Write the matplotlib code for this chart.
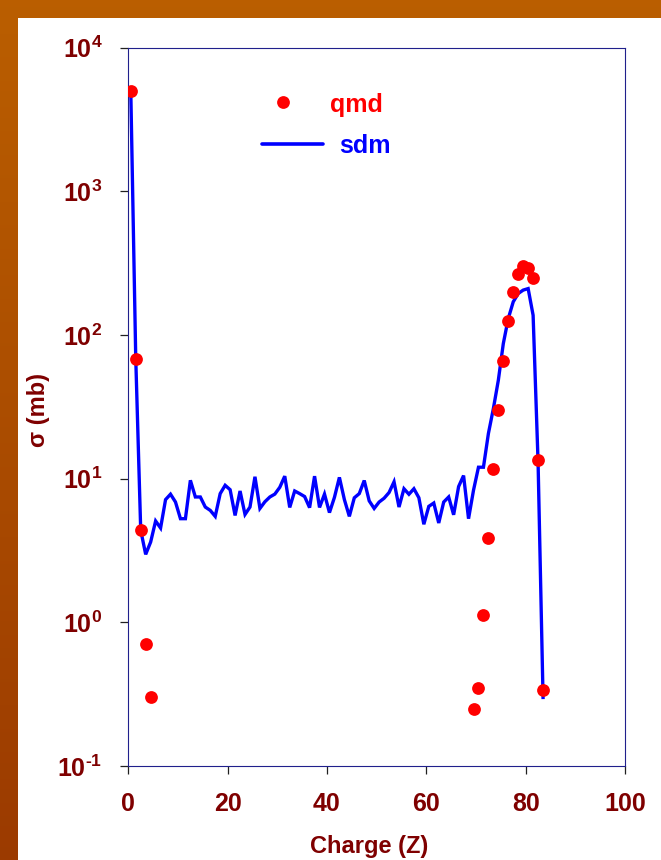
import numpy as np
import matplotlib.pyplot as plt
from matplotlib.patches import Rectangle

plt.rcParams['font.family'] = ['Liberation Sans', 'DejaVu Sans']
plt.rcParams['font.weight'] = 'bold'
plt.rcParams['mathtext.fontset'] = 'custom'
plt.rcParams['mathtext.rm'] = 'Liberation Sans:bold'
plt.rcParams['mathtext.it'] = 'Liberation Sans:bold'
plt.rcParams['mathtext.bf'] = 'Liberation Sans:bold'

# --- данные: сечения фрагментов по заряду ---
z_qmd = [0.5, 1.5, 2.5, 3.5, 4.5,
         69.5, 70.5, 71.5, 72.5, 73.5, 74.5, 75.5, 76.5, 77.5,
         78.5, 79.5, 80.5, 81.5, 82.5, 83.5]
sigma_qmd = [5000, 68.5, 4.4, 0.71, 0.30,
             0.25, 0.35, 1.13, 3.85, 11.7, 30, 66, 125, 198,
             265, 303, 294, 250, 13.4, 0.34]

z_sdm = [0.5, 1.5, 2.5, 3.5, 4.5, 5.5, 6.5, 7.5, 8.5, 9.5,
         10.5, 11.5, 12.5, 13.5, 14.5, 15.5, 16.5, 17.5, 18.5, 19.5,
         20.5, 21.5, 22.5, 23.5, 24.5, 25.5, 26.5, 27.5, 28.5, 29.5,
         30.5, 31.5, 32.5, 33.5, 34.5, 35.5, 36.5, 37.5, 38.5, 39.5,
         40.5, 41.5, 42.5, 43.5, 44.5, 45.5, 46.5, 47.5, 48.5, 49.5,
         50.5, 51.5, 52.5, 53.5, 54.5, 55.5, 56.5, 57.5, 58.5, 59.5,
         60.5, 61.5, 62.5, 63.5, 64.5, 65.5, 66.5, 67.5, 68.5, 69.5,
         70.5, 71.5, 72.5, 73.5, 74.5, 75.5, 76.5, 77.5, 78.5, 79.5,
         80.5, 81.5, 82.5, 83.5]
sigma_sdm = [5000, 68.5, 4.37, 2.97, 3.62, 5.07, 4.53, 7.14, 7.79, 6.87,
             5.26, 5.26, 9.73, 7.45, 7.45, 6.34, 6.01, 5.46, 7.86, 8.98,
             8.37, 5.54, 8.20, 5.63, 6.34, 10.3, 6.2, 6.9, 7.45, 7.8,
             8.7, 10.4, 6.3, 8.2, 7.86, 7.5, 6.28, 10.4, 6.3, 7.8,
             5.8, 7.4, 10.2, 7.15, 5.46, 7.35, 7.86, 9.7, 7.0, 6.2,
             6.87, 7.3, 8.0, 9.5, 6.34, 8.5, 7.78, 8.5, 7.36, 4.81,
             6.41, 6.76, 4.91, 6.87, 7.45, 5.6, 8.8, 10.5, 5.26, 8.3,
             12.0, 12.0, 20.6, 30.7, 48.4, 87, 130, 170, 194, 205,
             210, 137, 13, 0.30]

x_ticks = [0, 20, 40, 60, 80, 100]
y_exps = [-1, 0, 1, 2, 3, 4]

DARK_RED = '#7f0000'

W, H = 661, 860
fig = plt.figure(figsize=(W / 100, H / 100), dpi=100)

# фон: оранжевая рамка слева и сверху, белое поле
bg = fig.add_axes([0, 0, 1, 1], zorder=-10)
bg.set_axis_off()
grad = np.linspace(0, 1, 256)[:, None]
top_c = np.array([0.73, 0.37, 0.0])
bot_c = np.array([0.61, 0.23, 0.0])
img = top_c * (1 - grad[..., None]) + bot_c * grad[..., None]
bg.imshow(img, aspect='auto', extent=[0, 1, 0, 1], origin='upper')
bg.add_patch(Rectangle((18 / W, 0), 1 - 18 / W, 1 - 18 / H,
                       facecolor='white', edgecolor='none'))
bg.set_xlim(0, 1)
bg.set_ylim(0, 1)

ax = fig.add_axes([128.3 / W, 1 - 766 / H, (625 - 128.3) / W, (766 - 47.5) / H])
ax.set_facecolor('white')

ax.plot(z_sdm, sigma_sdm, color='#0000ff', lw=2.4, zorder=2,
        solid_joinstyle='miter')
ax.plot(z_qmd, sigma_qmd, 'o', color='#ff0000', ms=9.2, mec='none', zorder=3)

ax.set_yscale('log')
ax.set_xlim(0, 100)
ax.set_ylim(0.1, 1e4)
ax.minorticks_off()

ax.set_xticks(x_ticks)
ax.set_xticklabels([str(v) for v in x_ticks])
ax.set_yticks([10.0 ** e for e in y_exps])
# короткий дефис в показателе вместо длинного минуса
ax.set_yticklabels([r'$10^{\text{%s}}$' % str(e) for e in y_exps])

ax.tick_params(axis='both', which='major', direction='out', length=5.8,
               width=0.9, color='#202020', pad=13, labelsize=18,
               labelcolor=DARK_RED)
for lab in ax.get_xticklabels():
    lab.set_fontweight('bold')

for side in ['left', 'right', 'top', 'bottom']:
    ax.spines[side].set_color('#20208c')
    ax.spines[side].set_linewidth(0.8)

fig.text(369.5 / W, 1 - 847 / H, 'Charge (Z)', ha='center', va='center',
         fontsize=17, fontweight='bold', color=DARK_RED)
fig.text(39 / W, 1 - 410 / H, 'σ (mb)', ha='center', va='center',
         rotation=90, fontsize=17, fontweight='bold', color=DARK_RED)

# легенда без рамки, подписи цветом серии
ax.plot([0.3115], [0.924], 'o', color='#ff0000', ms=9.2, mec='none',
        transform=ax.transAxes, clip_on=False)
ax.text(0.406, 0.9107, 'qmd', transform=ax.transAxes, ha='left',
        va='baseline', fontsize=18, fontweight='bold', color='#ff0000')
ax.plot([0.269, 0.392], [0.8657, 0.8657], color='#0000ff', lw=2.6,
        solid_capstyle='round', transform=ax.transAxes)
ax.text(0.424, 0.8527, 'sdm', transform=ax.transAxes, ha='left',
        va='baseline', fontsize=18, fontweight='bold', color='#0000ff')

fig.savefig('out.png', dpi=100)
